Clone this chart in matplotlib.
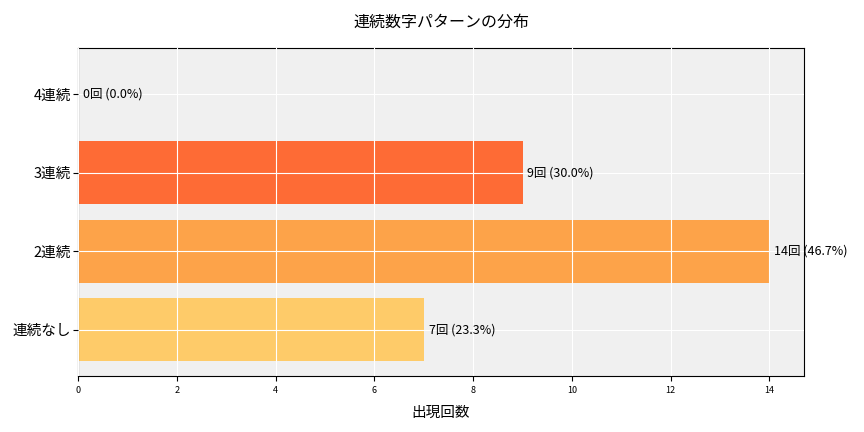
import matplotlib
matplotlib.use('Agg')
import matplotlib.pyplot as plt

plt.rcParams['font.family'] = ['Noto Sans CJK JP', 'DejaVu Sans']

categories = ['連続なし', '2連続', '3連続', '4連続']
counts = [7, 14, 9, 0]
colors = ['#FECB69', '#FDA349', '#FE6B35', '#E03C1F']
total = sum(counts)

fig, ax = plt.subplots(figsize=(8.64, 4.32), dpi=100)
ax.set_facecolor('#F0F0F0')
bars = ax.barh(categories, counts, color=colors, height=0.8, zorder=2)
ax.grid(True, color='white', linewidth=0.8, zorder=3)
ax.set_axisbelow(False)

for bar, c in zip(bars, counts):
    ax.text(bar.get_width() + 0.1, bar.get_y() + bar.get_height() / 2,
            f'{c}回 ({c / total * 100:.1f}%)', va='center', ha='left', fontsize=9, zorder=4)

ax.set_xlim(0, max(counts) * 1.05)
ax.set_xlabel('出現回数', fontsize=10.5, labelpad=8)
ax.set_title('連続数字パターンの分布', fontsize=11.5, pad=15)
ax.tick_params(axis='y', labelsize=10.5, pad=1.5)
ax.tick_params(axis='x', labelsize=6.5)

plt.subplots_adjust(left=0.0903, right=0.9306, top=0.889, bottom=0.1296)
plt.savefig('out.png')
